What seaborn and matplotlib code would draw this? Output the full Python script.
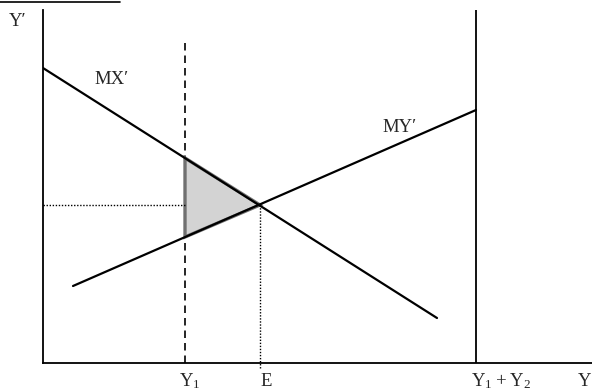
import matplotlib
matplotlib.use('Agg')
import matplotlib.pyplot as plt
import pandas as pd
import seaborn as sns
from matplotlib.lines import Line2D

# values (arbitrary units, origin at the axes corner)
mx_x = [0.0, 39.4]
mx_y = [29.5, 4.5]
my_x = [3.0, 43.3]
my_y = [7.7, 25.3]
y1 = 14.2
e_x = 21.7
e_y = 15.8
y1y2 = 43.3
y1_top = 32.5
triangle_x = [14.2, 14.2, 21.7]
triangle_y = [20.5, 12.6, 15.8]
label_x = [14.7, 22.3, 45.8]
label_text = [r'$\mathrm{Y_1}$', 'E', r'$\mathrm{Y_1 + Y_2}$']

sns.set_style('white')
plt.rcParams['font.family'] = ['Liberation Serif', 'DejaVu Serif']
plt.rcParams['mathtext.fontset'] = 'custom'
plt.rcParams['mathtext.rm'] = 'Liberation Serif'

fig = plt.figure(figsize=(5.92, 3.92), dpi=100)
ax = fig.add_axes([43 / 592, 29 / 392, 549 / 592, 353 / 392])
ax.set_xlim(0, 54.9)
ax.set_ylim(0, 35.3)

lines = pd.concat([
    pd.DataFrame({'x': mx_x, 'y': mx_y, 'curve': "MX′"}),
    pd.DataFrame({'x': my_x, 'y': my_y, 'curve': "MY′"}),
])
sns.lineplot(data=lines, x='x', y='y', units='curve', estimator=None,
             color='black', linewidth=1.6, sort=False, ax=ax, zorder=3)

ax.fill(triangle_x, triangle_y, facecolor='#d3d3d3', edgecolor='#707070',
        linewidth=2.4, zorder=2)

ax.plot([y1, y1], [0, y1_top], color='black', linestyle=(0, (4.5, 3)),
        linewidth=1.2, zorder=1)
ax.plot([y1y2, y1y2], [0, 35.3], color='black', linewidth=1.3)
ax.plot([0, y1], [e_y, e_y], color='black', linestyle=(0, (1, 1.2)), linewidth=1)
ax.plot([e_x, e_x], [-0.5, e_y], color='black', linestyle=(0, (1, 1.2)),
        linewidth=1, clip_on=False)

ax.text(6.9, 28.3, "MX′", fontsize=13.5, ha='center', va='center')
ax.text(35.7, 23.5, "MY′", fontsize=13.5, ha='center', va='center')

for lx, lt in zip(label_x, label_text):
    ax.text(lx, -1.8, lt, fontsize=13.5, ha='center', va='center')

ax.set_xticks([])
ax.set_yticks([])
ax.set_xlabel('')
ax.set_ylabel('')

fig.text(18 / 592, 1 - 21 / 392, "Y′", fontsize=13.5, ha='center', va='center')
fig.text(585 / 592, 1 - 381 / 392, "Y", fontsize=13.5, ha='center', va='center')

sns.despine(ax=ax)
for side in ['left', 'bottom']:
    ax.spines[side].set_color('black')
    ax.spines[side].set_linewidth(1.3)

# underline of the cropped heading at the top edge
fig.add_artist(Line2D([0, 120 / 592], [1 - 1.5 / 392, 1 - 1.5 / 392],
                      color='black', linewidth=1.2))

fig.savefig('out.png', dpi=100)
